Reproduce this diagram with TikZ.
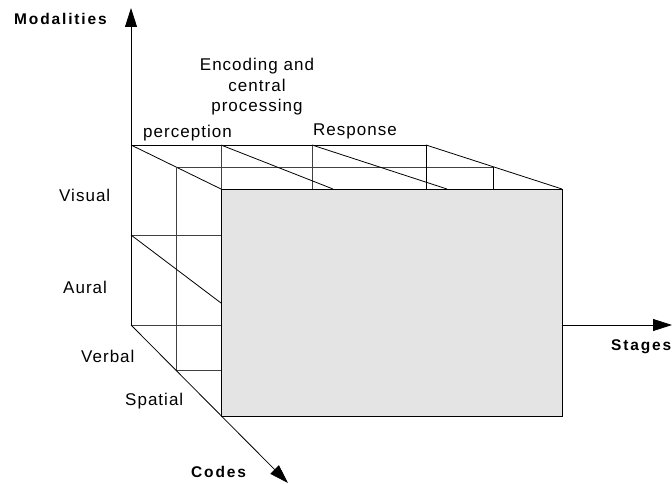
\documentclass[tikz,border=0pt]{standalone}
\usepackage{fontspec}
\setmainfont{Liberation Sans}
\usetikzlibrary{arrows.meta}
\definecolor{facegray}{RGB}{228,228,228}
\begin{document}
\begin{tikzpicture}[x=1pt,y=-1pt,
  edge/.style={line width=0.8pt, black},
  inner/.style={line width=0.8pt, black!75},
  axis/.style={line width=0.8pt, black, -{Triangle[length=19pt,width=12pt]}},
  lab/.style={font=\fontsize{17}{20.5}\selectfont\addfontfeature{LetterSpace=6}, inner sep=0pt, align=center},
  blab/.style={font=\fontsize{15.5}{17}\selectfont\bfseries\addfontfeature{LetterSpace=12}, inner sep=0pt}]
\useasboundingbox (0,0) rectangle (672,484);
% key points
\coordinate (O) at (131,325);
\coordinate (Mtip) at (131,8);
\coordinate (Ctip) at (288,483);
\coordinate (Sstart) at (562,325);
\coordinate (Stip) at (672,325);
% top face
\draw[edge] (131,145) -- (426,145);
\draw[inner] (176,167) -- (493,167);
\draw[inner] (221,145) -- (221,189);
\draw[inner] (312,145) -- (312,189);
\draw[edge] (426,145) -- (426,189);
\draw[edge] (493,167) -- (493,189);
\draw[edge] (131,145) -- (221,189);
\draw[edge] (221,145) -- (333,189);
\draw[edge] (312,145) -- (447,189);
\draw[edge] (426,145) -- (562,189);
% left face
\draw[inner] (176,167) -- (176,370);
\draw[inner] (131,235) -- (221,235);
\draw[inner] (131,325) -- (221,325);
\draw[inner] (176,370) -- (221,370);
\draw[edge] (131,235) -- (221,303);
% front face
\node[draw=black, line width=0.8pt, fill=facegray, minimum width=341pt, minimum height=227pt, inner sep=0pt, anchor=north west] (front) at (221,189) {};
% axes
\draw[axis] (O) -- (Mtip);
\draw[axis] (O) -- (Ctip);
\draw[axis] (Sstart) -- (Stip);
% labels
\node[blab, anchor=base west] (mod) at (14,25) {Modalities};
\node[blab, anchor=base west] (codes) at (191,477) {Codes};
\node[blab, anchor=base west] (stages) at (611,350) {Stages};
\node[lab] (enc) at (257,87) {Encoding and\\central\\processing};
\node[lab, anchor=base west] (perc) at (143,138) {perception};
\node[lab, anchor=base west] (resp) at (313,136) {Response};
\node[lab, anchor=base west] (vis) at (59,201) {Visual};
\node[lab, anchor=base west] (aur) at (63,293) {Aural};
\node[lab, anchor=base west] (verb) at (81,362) {Verbal};
\node[lab, anchor=base west] (spat) at (125,405) {Spatial};
\end{tikzpicture}
\end{document}
